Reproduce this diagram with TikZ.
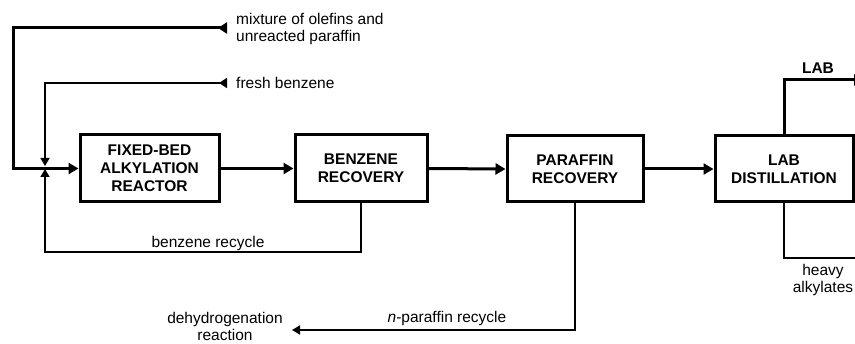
\documentclass[tikz,border=0pt]{standalone}
\usepackage{fontspec}
\setmainfont{Liberation Sans}
\usetikzlibrary{arrows.meta}
\tikzset{
  bigtip/.tip={Triangle[length=10pt,width=11pt]},
  smalltip/.tip={Triangle[length=8pt,width=9pt]},
  bigin/.tip={Triangle[reversed,length=9pt,width=11pt]},
  smallin/.tip={Triangle[reversed,length=8pt,width=10pt]}
}
\begin{document}
\begin{tikzpicture}[x=1pt,y=-1pt,
  unit/.style={draw,line width=3pt,align=center,inner sep=0pt,
    font=\fontsize{15.5}{18}\selectfont\bfseries},
  thick flow/.style={line width=3pt},
  thin flow/.style={line width=1.6pt},
  lbl/.style={font=\fontsize{15.5}{17}\selectfont,inner sep=0pt}]
\useasboundingbox (0,0) rectangle (855,344);
\node[unit,minimum width=139pt,minimum height=67pt] (b1) at (149.5,168.5) {FIXED-BED\\ALKYLATION\\REACTOR};
\node[unit,minimum width=132pt,minimum height=67pt] (b2) at (361,168.5) {BENZENE\\RECOVERY};
\node[unit,minimum width=136pt,minimum height=66pt] (b3) at (575,169) {PARAFFIN\\RECOVERY};
\node[unit,minimum width=138pt,minimum height=66pt] (b4) at (784,169) {LAB\\DISTILLATION};
% labels
\node[lbl,anchor=west,align=left] (mix) at (236,28.5) {mixture of olefins and\\unreacted paraffin};
\node[lbl,anchor=west] (fb) at (236,83) {fresh benzene};
\node[lbl] (brl) at (208,243) {benzene recycle};
\node[lbl] (prl) at (447,318) {\textit{n}-paraffin recycle};
\node[lbl,align=center] (dh) at (225,326) {dehydrogenation\\reaction};
\node[lbl,font=\fontsize{15.5}{17}\selectfont\bfseries] (lab) at (818,68) {LAB};
\node[lbl,align=center] (hv) at (823,280) {heavy\\alkylates};
% coordinates
\coordinate (mixin) at (227,28);
\coordinate (fbin) at (227,83);
\coordinate (jtop) at (45,166);
\coordinate (jbot) at (45,169);
\coordinate (dhend) at (292,330);
\coordinate (labend) at (864,80);
\coordinate (hvend) at (864,258);
% main flows
\draw[thick flow,bigin-bigtip] (mixin) -- (13,28) |- (b1.west);
\draw[thick flow,-bigtip] (b1.east) -- (b2.west);
\draw[thick flow,-bigtip] (b2.east) -- (b3.west);
\draw[thick flow,-bigtip] (b3.east) -- (b4.west);
% benzene
\draw[thin flow,smallin-smalltip] (fbin) -| (jtop);
\draw[thin flow,-smalltip] (b2.south) |- (45,252) -- (jbot);
% paraffin recycle
\draw[thin flow,-smalltip] (b3.south) |- (dhend);
% LAB outlets
\draw[thick flow,-bigtip] (b4.north) |- (labend);
\draw[thin flow,-smalltip] (b4.south) |- (hvend);
\end{tikzpicture}
\end{document}
